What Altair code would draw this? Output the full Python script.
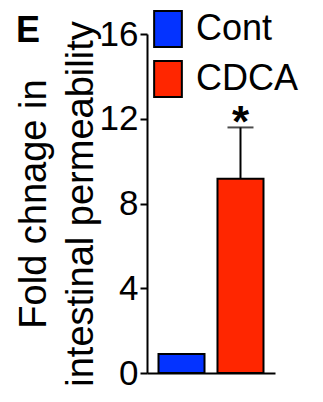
import altair as alt
import pandas as pd

groups = ["Cont", "CDCA"]
means = [0.9, 9.17]
errors = [0.0, 2.42]
sig = ["", "*"]
colors = ["#0433FF", "#FF2600"]
y_ticks = [0, 4, 8, 12, 16]

df = pd.DataFrame({"group": groups, "mean": means, "err": errors, "sig": sig})
df["upper"] = df["mean"] + df["err"]

FONT = "Liberation Sans"

x_enc = alt.X("group:N", sort=groups,
              scale=alt.Scale(paddingInner=0.22, paddingOuter=0.195),
              axis=alt.Axis(title=None, labels=False, ticks=False, domain=True,
                            domainColor="black", domainWidth=2))

base = alt.Chart(df)

bars = base.mark_bar(stroke="black", strokeWidth=2).encode(
    x=x_enc,
    y=alt.Y("mean:Q", scale=alt.Scale(domain=[0, 16], nice=False),
            axis=alt.Axis(values=y_ticks, title=["Fold chnage in", "intestinal permeability"],
                          titleFont=FONT, titleFontSize=38, titleFontWeight="normal",
                          titleColor="black", titleLineHeight=47,
                          titleAngle=-90, titleBaseline="alphabetic", titleAlign="center",
                          titleX=-102, titleY=169.5,
                          labelFont=FONT, labelFontSize=35, labelColor="black",
                          labelPadding=2, tickSize=7, tickColor="black", tickWidth=2,
                          domainColor="black", domainWidth=2, grid=False)),
    color=alt.Color("group:N", sort=groups,
                    scale=alt.Scale(domain=groups, range=colors),
                    legend=alt.Legend(title=None, orient="none", legendX=2, legendY=-24,
                                      symbolType="M-0.77,-1H0.77V1H-0.77Z", symbolSize=1296,
                                      symbolStrokeColor="black", symbolStrokeWidth=2,
                                      labelFont=FONT, labelFontSize=36, labelColor="black",
                                      labelOffset=9, rowPadding=6, padding=0,
                                      labelBaseline="middle")),
)

err_data = base.transform_filter("datum.err > 0")

rule = err_data.mark_rule(color="black", strokeWidth=2).encode(
    x=alt.X("group:N", sort=groups), y="mean:Q", y2="upper:Q")

cap = err_data.mark_tick(color="black", thickness=2, size=26, orient="horizontal").encode(
    x=alt.X("group:N", sort=groups), y="upper:Q")

star = err_data.mark_text(font=FONT, fontSize=44, fontWeight="bold", baseline="alphabetic",
                          dy=10, color="black").encode(
    x=alt.X("group:N", sort=groups), y="upper:Q", text="sig:N")

label_e = alt.Chart(pd.DataFrame({"t": ["E"]})).mark_text(
    font=FONT, fontSize=36, fontWeight="bold", align="left", baseline="alphabetic",
    color="black").encode(x=alt.value(-131), y=alt.value(7.5), text="t:N")

chart = alt.layer(bars, rule, cap, star, label_e).properties(
    width=128, height=339,
    autosize=alt.AutoSizeParams(type="none"),
    padding={"left": 139, "top": 26, "right": 40, "bottom": 20},
).configure_view(stroke=None)

chart.save("out.html", embed_options={"renderer": "svg", "actions": False})
